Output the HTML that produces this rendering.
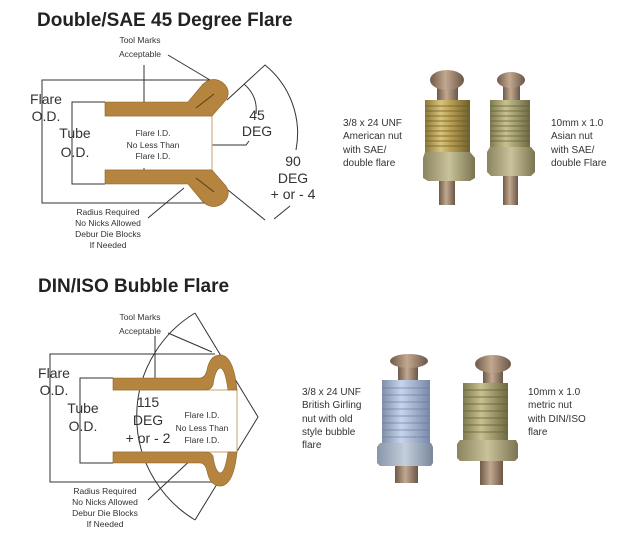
<!DOCTYPE html>
<html><head><style>
body{margin:0;background:#fff;}
svg{display:block;font-family:"Liberation Sans",Arial,sans-serif;}
</style></head><body>
<svg width="634" height="540" viewBox="0 0 634 540" xmlns="http://www.w3.org/2000/svg">
<defs>
<linearGradient id="brass" x1="0" x2="1"><stop offset="0" stop-color="#8a7a3a"/><stop offset=".35" stop-color="#d9c27a"/><stop offset=".6" stop-color="#b39a50"/><stop offset="1" stop-color="#6e5f2c"/></linearGradient>
<linearGradient id="brass2" x1="0" x2="1"><stop offset="0" stop-color="#7f7a50"/><stop offset=".4" stop-color="#c8c090"/><stop offset="1" stop-color="#6d6840"/></linearGradient>
<linearGradient id="blue" x1="0" x2="1"><stop offset="0" stop-color="#7f8fa8"/><stop offset=".4" stop-color="#c8d4ec"/><stop offset="1" stop-color="#7888a8"/></linearGradient>
<linearGradient id="copper" x1="0" x2="1"><stop offset="0" stop-color="#6e5a48"/><stop offset=".45" stop-color="#c2a890"/><stop offset="1" stop-color="#6a5646"/></linearGradient>
<linearGradient id="hexg" x1="0" x2="1"><stop offset="0" stop-color="#8a8460"/><stop offset=".5" stop-color="#c9c29a"/><stop offset="1" stop-color="#7a7450"/></linearGradient>
<linearGradient id="hexb" x1="0" x2="1"><stop offset="0" stop-color="#8896a8"/><stop offset=".5" stop-color="#c4cedc"/><stop offset="1" stop-color="#7a889a"/></linearGradient>
</defs>

<!-- TOP DIAGRAM -->
<text x="37" y="26" font-size="19" font-weight="bold" fill="#222">Double/SAE 45 Degree Flare</text>
<g font-size="8.5" fill="#333" text-anchor="middle">
<text x="140" y="43">Tool Marks</text>
<text x="140" y="57">Acceptable</text>
<text x="108" y="215">Radius Required</text>
<text x="108" y="226">No Nicks Allowed</text>
<text x="108" y="237">Debur Die Blocks</text>
<text x="108" y="248">If Needed</text>
<text x="153" y="136">Flare I.D.</text>
<text x="153" y="148">No Less Than</text>
<text x="153" y="159">Flare I.D.</text>
</g>
<g font-size="14" fill="#333" text-anchor="middle">
<text x="46" y="104">Flare</text>
<text x="46" y="121">O.D.</text>
<text x="75" y="138">Tube</text>
<text x="75" y="157">O.D.</text>
<text x="257" y="120">45</text>
<text x="257" y="136">DEG</text>
<text x="293" y="166">90</text>
<text x="293" y="183">DEG</text>
<text x="293" y="199">+ or - 4</text>
</g>
<g stroke="#333" stroke-width="1" fill="none">
<path d="M210,80 H42 V203 H215"/>
<path d="M105,102 H72 V184 H105"/>
<path d="M144,65 V102 M144,168 V172"/>
<path d="M168,55 L210,80"/>
<path d="M148,218 L184,188"/>
<path d="M227,100 L265,65 A88,88 0 0 1 296,150"/>
<path d="M290,206 L274,219 M228,190 L265,220"/>
<path d="M244,84 Q258,96 256,114"/>
<path d="M212,145 H246 L249,141"/>
</g>
<path d="M105,116 H212 V170 H105" fill="none" stroke="#c9a36a" stroke-width="1"/>
<g fill="#b5843f" stroke="#8a6226" stroke-width=".6">
<path d="M105,102 H188 L203,84 Q212,76 222,82 Q232,90 226,100 L212,116 H105 Z"/>
<path d="M105,184 H188 L203,202 Q212,210 222,204 Q232,196 226,186 L212,170 H105 Z"/>
</g>
<path d="M196,108 L214,94 M196,178 L214,192" stroke="#5a3e16" stroke-width="1"/>

<!-- BOTTOM DIAGRAM -->
<text x="38" y="292" font-size="19" font-weight="bold" fill="#222">DIN/ISO Bubble Flare</text>
<g font-size="8.5" fill="#333" text-anchor="middle">
<text x="140" y="320">Tool Marks</text>
<text x="140" y="334">Acceptable</text>
<text x="105" y="494">Radius Required</text>
<text x="105" y="505">No Nicks Allowed</text>
<text x="105" y="516">Debur Die Blocks</text>
<text x="105" y="527">If Needed</text>
<text x="202" y="418">Flare I.D.</text>
<text x="202" y="431">No Less Than</text>
<text x="202" y="443">Flare I.D.</text>
</g>
<g font-size="14" fill="#333" text-anchor="middle">
<text x="54" y="378">Flare</text>
<text x="54" y="395">O.D.</text>
<text x="83" y="413">Tube</text>
<text x="83" y="431">O.D.</text>
<text x="148" y="407">115</text>
<text x="148" y="425">DEG</text>
<text x="148" y="443">+ or - 2</text>
</g>
<g stroke="#333" stroke-width="1" fill="none">
<path d="M215,354 H50 V482 H215"/>
<path d="M113,378 H80 V463 H113"/>
<path d="M155,336 V378"/>
<path d="M168,333 L212,352"/>
<path d="M148,500 L196,455"/>
<path d="M195,313 L258,417 L195,520"/>
<path d="M195,313 A121,121 0 0 0 195,520"/>
</g>
<path d="M113,390 H237 V452 H113" fill="none" stroke="#c9a36a" stroke-width="1"/>
<g fill="#b5843f" stroke="#8a6226" stroke-width=".6">
<path d="M113,378 H200 Q205,378 207,370 Q210,354 222,355 Q234,358 237,390 L228,390 Q225,368 220,368 Q215,370 213,385 Q211,390 205,390 H113 Z"/>
<path d="M113,463 H200 Q205,463 207,471 Q210,487 222,486 Q234,483 237,452 L228,452 Q225,473 220,473 Q215,471 213,456 Q211,452 205,452 H113 Z"/>
</g>

<!-- PHOTO TEXT -->
<g font-size="10" fill="#333">
<text x="343" y="126">3/8 x 24 UNF</text>
<text x="343" y="139">American nut</text>
<text x="343" y="153">with SAE/</text>
<text x="343" y="166">double flare</text>
<text x="551" y="126">10mm x 1.0</text>
<text x="551" y="139">Asian nut</text>
<text x="551" y="153">with SAE/</text>
<text x="551" y="166">double Flare</text>
<text x="302" y="395">3/8 x 24 UNF</text>
<text x="302" y="408">British Girling</text>
<text x="302" y="422">nut with old</text>
<text x="302" y="435">style bubble</text>
<text x="302" y="448">flare</text>
<text x="528" y="395">10mm  x 1.0</text>
<text x="528" y="408">metric nut</text>
<text x="528" y="422">with DIN/ISO</text>
<text x="528" y="435">flare</text>
</g>

<!-- FITTINGS -->
<g>
<rect x="439" y="178" width="16" height="27" fill="url(#copper)"/>
<rect x="437" y="86" width="21" height="16" fill="url(#copper)"/>
<ellipse cx="447" cy="80" rx="17" ry="10" fill="url(#copper)"/>
<rect x="425" y="100" width="45" height="53" fill="url(#brass)"/>
<g stroke="#6e5a28" stroke-width="1.2" opacity=".6"><path d="M425,106H470M425,111H470M425,116H470M425,121H470M425,126H470M425,131H470M425,136H470M425,141H470M425,146H470"/></g>
<path d="M425,152 H470 L475,158 V178 L470,181 H428 L423,178 V158 Z" fill="url(#hexg)"/>

<rect x="503" y="174" width="15" height="31" fill="url(#copper)"/>
<rect x="503" y="84" width="17" height="18" fill="url(#copper)"/>
<ellipse cx="511" cy="80" rx="14" ry="8" fill="url(#copper)"/>
<rect x="490" y="100" width="40" height="50" fill="url(#brass2)"/>
<g stroke="#5c6038" stroke-width="1.2" opacity=".6"><path d="M490,106H530M490,111H530M490,116H530M490,121H530M490,126H530M490,131H530M490,136H530M490,141H530"/></g>
<path d="M490,147 H531 L535,152 V172 L531,176 H491 L487,172 V152 Z" fill="url(#hexg)"/>

<rect x="395" y="463" width="23" height="20" fill="url(#copper)"/>
<rect x="398" y="363" width="20" height="19" fill="url(#copper)"/>
<ellipse cx="409" cy="361" rx="19" ry="7" fill="url(#copper)"/>
<rect x="382" y="380" width="48" height="64" fill="url(#blue)"/>
<g stroke="#6678a0" stroke-width="1.2" opacity=".5"><path d="M382,388H430M382,395H430M382,402H430M382,409H430M382,416H430M382,423H430M382,430H430M382,437H430"/></g>
<path d="M380,443 H431 L433,447 V463 L431,466 H380 L377,463 V447 Z" fill="url(#hexb)"/>

<rect x="480" y="458" width="23" height="27" fill="url(#copper)"/>
<rect x="483" y="368" width="20" height="17" fill="url(#copper)"/>
<ellipse cx="493" cy="364" rx="18" ry="9" fill="url(#copper)"/>
<rect x="463" y="383" width="45" height="58" fill="url(#brass2)"/>
<g stroke="#5c6038" stroke-width="1.2" opacity=".6"><path d="M463,390H508M463,397H508M463,404H508M463,411H508M463,418H508M463,425H508M463,432H508"/></g>
<path d="M460,440 H516 L518,444 V458 L515,461 H460 L457,458 V444 Z" fill="url(#hexg)"/>
</g>
</svg>
</body></html>
